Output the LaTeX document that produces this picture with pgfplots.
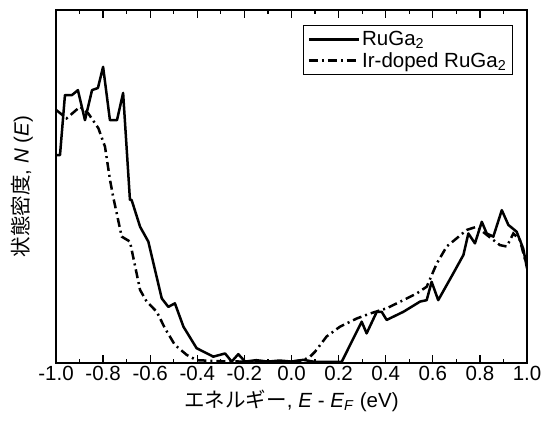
\documentclass[border=0pt]{standalone}
\usepackage{pgfplots}
\pgfplotsset{compat=1.18}
\usepackage{fontspec}
\setmainfont{Liberation Sans}
\newfontfamily\cjk{Noto Sans CJK JP}
\begin{document}
\begin{tikzpicture}
\begin{axis}[
    scale only axis,
    width=471pt, height=353pt,
    xmin=-1, xmax=1, ymin=0, ymax=100,
    xtick={-1,-0.8,-0.6,-0.4,-0.2,0,0.2,0.4,0.6,0.8,1},
    xticklabels={-1.0,-0.8,-0.6,-0.4,-0.2,0.0,0.2,0.4,0.6,0.8,1.0},
    minor x tick num=1,
    ytick=\empty,
    xtick pos=both, xticklabel pos=bottom,
    tick align=inside,
    major tick length=8pt, minor tick length=4pt,
    every tick/.style={black, line width=1.2pt},
    axis line style={line width=1.5pt},
    tick label style={font=\fontsize{20.5}{24}\selectfont},
    label style={font=\fontsize{20.5}{24}\selectfont},
    xlabel={{\cjk エネルギー}, \textit{E} - \textit{E}\textsubscript{\textit{F}} (eV)},
    ylabel={{\cjk 状態密度}, \textit{N} (\textit{E})},
    xlabel style={at={(axis description cs:0.5,-0.107)}, anchor=center},
    ylabel style={at={(axis description cs:-0.072,0.5)}, anchor=center},
    legend style={at={(0.970,0.958)}, anchor=north east, draw=black, line width=1.2pt,
        font=\fontsize{20.5}{24}\selectfont, row sep=1pt, inner sep=4pt},
    legend cell align={left},
    legend image code/.code={\draw[#1] (0pt,0pt) -- (50pt,0pt);},
]
% RuGa2
\addplot[black, line width=2.5pt, line join=round] coordinates {
 (-1.000,58.9) (-0.983,58.9) (-0.962,75.9) (-0.932,75.9) (-0.907,77.3) (-0.877,68.8)
 (-0.847,77.3) (-0.822,77.9) (-0.800,83.9) (-0.771,68.8) (-0.741,68.8) (-0.715,76.5)
 (-0.686,46.2) (-0.679,46.2) (-0.643,38.6) (-0.608,34.4) (-0.551,18.3) (-0.523,15.9)
 (-0.495,16.9) (-0.459,10.3) (-0.403,4.2) (-0.332,1.8) (-0.282,2.7) (-0.254,0.4)
 (-0.226,2.5) (-0.197,0.4) (-0.150,0.8) (-0.100,0.4) (-0.050,0.7) (0.000,0.4)
 (0.050,0.9) (0.100,0.3) (0.150,0.3) (0.213,0.3) (0.298,11.7) (0.319,8.4)
 (0.362,14.5) (0.383,14.5) (0.404,12.2) (0.475,14.5) (0.546,17.4) (0.574,17.8)
 (0.595,23.0) (0.623,17.8) (0.687,25.4) (0.730,30.6) (0.751,36.7) (0.779,33.9)
 (0.808,40.0) (0.829,36.7) (0.857,35.8) (0.893,43.3) (0.921,39.1) (0.956,37.2)
 (0.984,32.4) (1.000,26.8)
};
\addlegendentry{RuGa\textsubscript{2}}
% Ir-doped RuGa2
\addplot[black, line width=2.5pt, dash pattern=on 9pt off 4pt on 2pt off 4pt] coordinates {
 (-1.000,71.7) (-0.955,69.3) (-0.898,72.6) (-0.863,70.7) (-0.820,66.5) (-0.792,61.3)
 (-0.771,52.0) (-0.757,47.0) (-0.721,35.8) (-0.686,34.4) (-0.643,20.7) (-0.615,17.4)
 (-0.572,14.5) (-0.537,9.8) (-0.495,5.1) (-0.445,2.3) (-0.403,0.8) (-0.300,0.5)
 (-0.200,0.4) (-0.100,0.5) (0.000,0.4) (0.050,0.8) (0.079,1.8) (0.100,3.2)
 (0.149,7.5) (0.206,10.3) (0.277,12.6) (0.333,14.0) (0.404,15.5) (0.475,17.8)
 (0.532,19.7) (0.574,21.6) (0.617,28.2) (0.659,33.0) (0.701,35.3) (0.744,37.7)
 (0.786,38.6) (0.829,36.3) (0.885,33.4) (0.914,33.0) (0.942,36.7) (0.970,34.8)
 (0.992,29.2)
};
\addlegendentry{Ir-doped RuGa\textsubscript{2}}
\end{axis}
\path (-56pt,-60pt) rectangle (493pt,363pt);
\end{tikzpicture}
\end{document}
